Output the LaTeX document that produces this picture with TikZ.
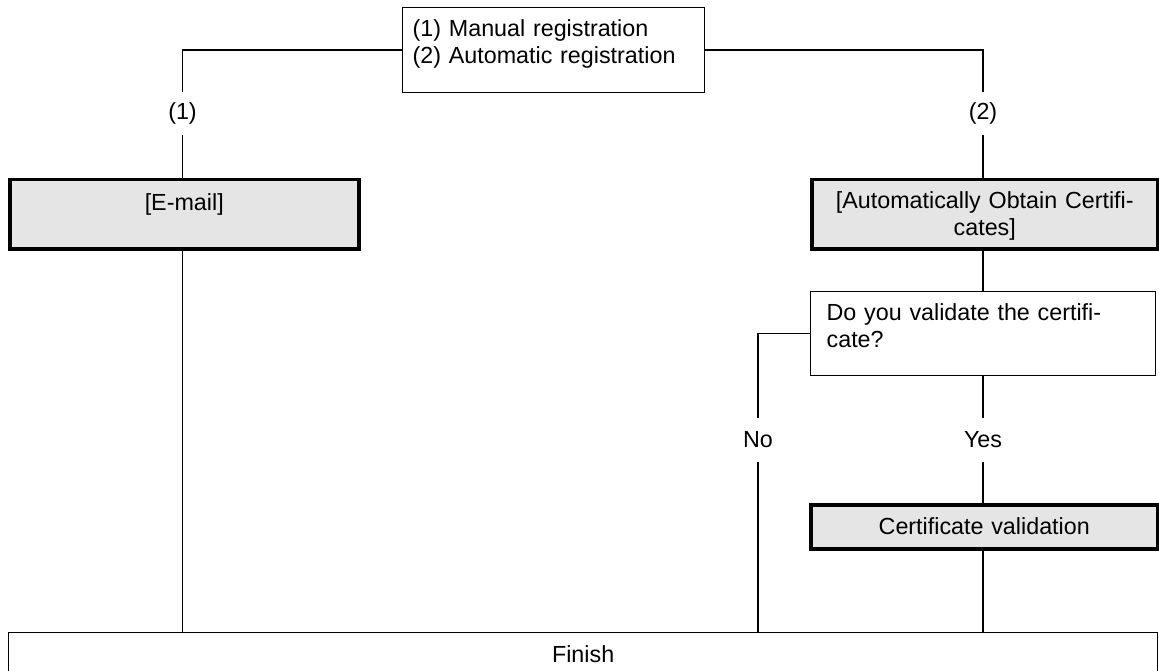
\documentclass[tikz,border=0pt]{standalone}
\usepackage{fontspec}
\setmainfont{Liberation Sans}
\definecolor{boxgrey}{HTML}{E5E5E5}
\begin{document}
\begin{tikzpicture}[x=1pt,y=-1pt,
  font=\fontsize{23.3}{27}\selectfont,
  conn/.style={line width=1.3pt},
  plainbox/.style={draw, line width=1.3pt, inner ysep=0pt, anchor=north west},
  greybox/.style={draw, line width=3.5pt, fill=boxgrey, inner sep=0pt, anchor=north west, align=center},
  lbl/.style={inner sep=0pt, minimum height=43pt}]
\useasboundingbox (0,0) rectangle (1159,671);

\node[plainbox, inner xsep=10pt, text width=282pt, text height=29pt, text depth=56pt, align=left] (top) at (402,7)
  {(1) Manual registration\\(2) Automatic registration};
\node[greybox, text width=349pt, text height=31pt, text depth=38pt] (email) at (8,178) {[E-mail]};
\node[greybox, text width=346pt, text height=29pt, text depth=40pt] (auto) at (810,178)
  {[Automatically Obtain Certifi-\\cates]};
\node[plainbox, inner xsep=16pt, text width=313pt, text height=29pt, text depth=55pt, align=left] (q) at (810,291)
  {Do you validate the certifi-\\cate?};
\node[greybox, text width=347pt, text height=30pt, text depth=14pt] (cert) at (809,503) {Certificate validation};
\node[plainbox, inner xsep=0pt, text width=1149pt, text height=30pt, text depth=20pt, align=center] (fin) at (8,632) {Finish};

\node[lbl] (l1) at (182.5,113.5) {(1)};
\node[lbl] (l2) at (983,113.5) {(2)};
\node[lbl] (no) at (758,440) {No};
\node[lbl] (yes) at (983,440) {Yes};

\draw[conn] (top.west) -| (l1.north);
\draw[conn] (l1.south) -- (email.north -| l1.south);
\draw[conn] (top.east) -| (l2.north);
\draw[conn] (l2.south) -- (auto.north -| l2.south);
\draw[conn] (auto.south -| l2.south) -- (q.north -| l2.south);
\draw[conn] (q.south -| yes.north) -- (yes.north);
\draw[conn] (yes.south) -- (cert.north -| yes.south);
\draw[conn] (cert.south -| yes.south) -- (fin.north -| yes.south);
\draw[conn] (q.west) -| (no.north);
\draw[conn] (no.south) -- (fin.north -| no.south);
\draw[conn] (email.south -| l1.south) -- (fin.north -| l1.south);
\end{tikzpicture}
\end{document}
